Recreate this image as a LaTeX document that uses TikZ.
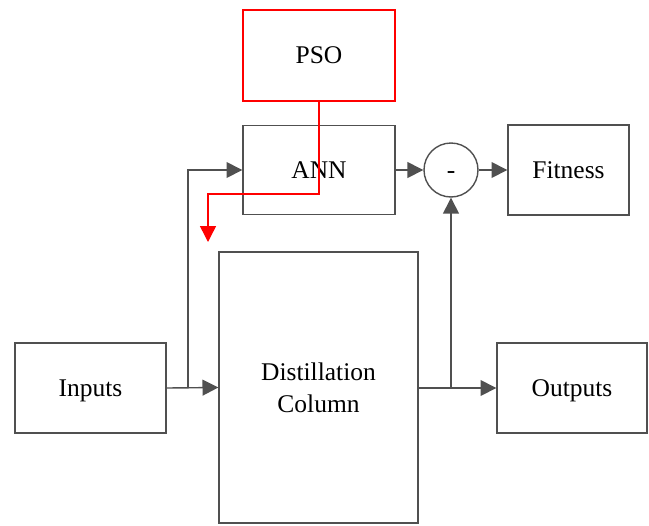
\documentclass[tikz,border=0pt]{standalone}
\usepackage{fontspec}
\setmainfont{Liberation Serif}
\usetikzlibrary{arrows.meta}
\definecolor{linegray}{HTML}{505050}
\begin{document}
\begin{tikzpicture}[x=0.02cm, y=-0.02cm,
    every node/.style={draw=linegray, line width=0.8pt, font=\fontsize{14.5}{18}\selectfont, align=center, inner sep=0pt},
    oneline/.style={text height=9.6pt, text depth=0pt},
    flow/.style={draw=linegray, line width=0.8pt, -{Triangle[length=9pt,width=9pt]}}]
          \useasboundingbox (0,0) rectangle (649,525);
          \node[oneline, draw=red, minimum width=3.04cm, minimum height=1.82cm] (pso) at (319,55.5) {PSO};
          \node[oneline, minimum width=3.04cm, minimum height=1.78cm] (ann) at (319,170) {ANN};
          \node[oneline, circle, minimum size=1.08cm] (minus) at (451,170) {-};
          \node[oneline, minimum width=2.42cm, minimum height=1.8cm] (fitness) at (568.5,170) {Fitness};
          \node[oneline, minimum width=3.02cm, minimum height=1.8cm] (inputs) at (90.5,388) {Inputs};
          \node[minimum width=3.98cm, minimum height=5.42cm] (column) at (318.5,387.5) {Distillation\\Column};
          \node[oneline, minimum width=3.0cm, minimum height=1.8cm] (outputs) at (572,388) {Outputs};
          % Branch points
          \coordinate (split1) at (188,388);
          \coordinate (split2) at (451,388);
          % Signal flow
          \draw[flow] (inputs.east) -- (column.west);
          \draw[flow] (split1) |- (ann.west);
          \draw[flow] (ann) -- (minus);
          \draw[flow] (minus) -- (fitness);
          \draw[flow] (column.east |- split2) -- (outputs.west |- split2);
          \draw[flow] (split2) -- (minus.south);
          % Optimiser link
          \coordinate (redturn) at (208,194);
          \coordinate (redtip) at (208,242);
          \draw[flow, draw=red] (pso.south) |- (redturn) -- (redtip);
        \end{tikzpicture}
\end{document}
